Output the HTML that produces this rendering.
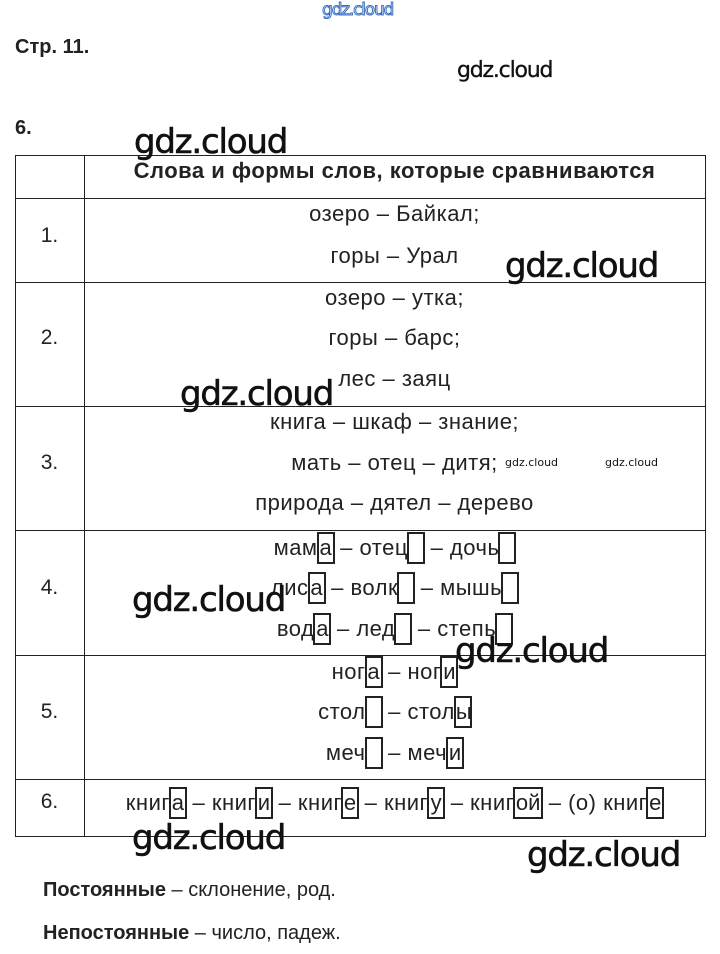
<!DOCTYPE html>
<html><head><meta charset="utf-8"><style>
body{margin:0;width:720px;height:954px;background:#fff;position:relative;font-family:"Liberation Sans",sans-serif;color:#222;overflow:hidden}
.a{position:absolute;white-space:nowrap}
.h{position:absolute;background:#222;height:1px}
.v{position:absolute;background:#222;width:1px}
.l{position:absolute;left:84px;width:621px;text-align:center;font-size:22px;letter-spacing:0.5px;line-height:24px;white-space:nowrap}
.n{position:absolute;left:15px;width:69px;text-align:center;font-size:21px;line-height:24px}
.b{display:inline-block;border:2px solid #222;width:14px;height:24px;padding:2px 0;line-height:24px;vertical-align:top;margin:-4px -1px -4px -1px;text-align:center;letter-spacing:0}
.w{position:absolute;font-family:"DejaVu Sans","Liberation Sans",sans-serif;color:#111;white-space:nowrap;letter-spacing:-1.2px;-webkit-text-stroke:0.6px #111}
</style></head><body>
<div class="w" style="left:322px;top:0;font-size:17px;color:#fff;-webkit-text-stroke:1px #3a6fc0">gdz.cloud</div>
<div class="a" style="left:15px;top:36px;font-size:20px;font-weight:bold">Стр. 11.</div>
<div class="w" style="left:457px;top:58px;font-size:22px;-webkit-text-stroke:0.3px #111">gdz.cloud</div>
<div class="a" style="left:15px;top:117px;font-size:20px;font-weight:bold">6.</div>

<div class="h" style="left:15px;width:691px;top:155px"></div>
<div class="h" style="left:15px;width:691px;top:198px"></div>
<div class="h" style="left:15px;width:691px;top:282px"></div>
<div class="h" style="left:15px;width:691px;top:406px"></div>
<div class="h" style="left:15px;width:691px;top:530px"></div>
<div class="h" style="left:15px;width:691px;top:655px"></div>
<div class="h" style="left:15px;width:691px;top:779px"></div>
<div class="h" style="left:15px;width:691px;top:836px"></div>
<div class="v" style="left:15px;top:155px;height:682px"></div>
<div class="v" style="left:84px;top:155px;height:682px"></div>
<div class="v" style="left:705px;top:155px;height:682px"></div>

<div class="l" style="top:159px;font-weight:bold;font-size:22px;letter-spacing:0.5px">Слова и формы слов, которые сравниваются</div>
<div class="n" style="top:224px">1.</div>
<div class="l" style="top:202px">озеро – Байкал;</div>
<div class="l" style="top:244px">горы – Урал</div>
<div class="n" style="top:326px">2.</div>
<div class="l" style="top:286px">озеро – утка;</div>
<div class="l" style="top:326px">горы – барс;</div>
<div class="l" style="top:367px">лес – заяц</div>
<div class="n" style="top:451px">3.</div>
<div class="l" style="top:410px">книга – шкаф – знание;</div>
<div class="l" style="top:451px">мать – отец – дитя;</div>
<div class="l" style="top:491px">природа – дятел – дерево</div>
<div class="n" style="top:576px">4.</div>
<div class="l" style="top:536px">мам<span class="b">а</span> – отец<span class="b"></span> – дочь<span class="b"></span></div>
<div class="l" style="top:576px">лис<span class="b">а</span> – волк<span class="b"></span> – мышь<span class="b"></span></div>
<div class="l" style="top:617px">вод<span class="b">а</span> – лед<span class="b"></span> – степь<span class="b"></span></div>
<div class="n" style="top:700px">5.</div>
<div class="l" style="top:660px">ног<span class="b">а</span> – ног<span class="b">и</span></div>
<div class="l" style="top:700px">стол<span class="b"></span> – стол<span class="b">ы</span></div>
<div class="l" style="top:741px">меч<span class="b"></span> – меч<span class="b">и</span></div>
<div class="n" style="top:790px">6.</div>
<div class="l" style="top:791px">книг<span class="b">а</span> – книг<span class="b">и</span> – книг<span class="b">е</span> – книг<span class="b">у</span> – книг<span class="b" style="width:26px">ой</span> – (о) книг<span class="b">е</span></div>

<div class="a" style="left:43px;top:879px;font-size:20px"><b>Постоянные</b> – склонение, род.</div>
<div class="a" style="left:43px;top:922px;font-size:20px"><b>Непостоянные</b> – число, падеж.</div>

<div class="w" style="left:134px;top:122px;font-size:34px">gdz.cloud</div>
<div class="w" style="left:505px;top:246px;font-size:34px">gdz.cloud</div>
<div class="w" style="left:180px;top:374px;font-size:34px">gdz.cloud</div>
<div class="w" style="left:505px;top:456px;font-size:11px;letter-spacing:0;-webkit-text-stroke:0">gdz.cloud</div>
<div class="w" style="left:605px;top:456px;font-size:11px;letter-spacing:0;-webkit-text-stroke:0">gdz.cloud</div>
<div class="w" style="left:132px;top:580px;font-size:34px">gdz.cloud</div>
<div class="w" style="left:455px;top:631px;font-size:34px">gdz.cloud</div>
<div class="w" style="left:132px;top:818px;font-size:34px">gdz.cloud</div>
<div class="w" style="left:527px;top:835px;font-size:34px">gdz.cloud</div>
</body></html>
